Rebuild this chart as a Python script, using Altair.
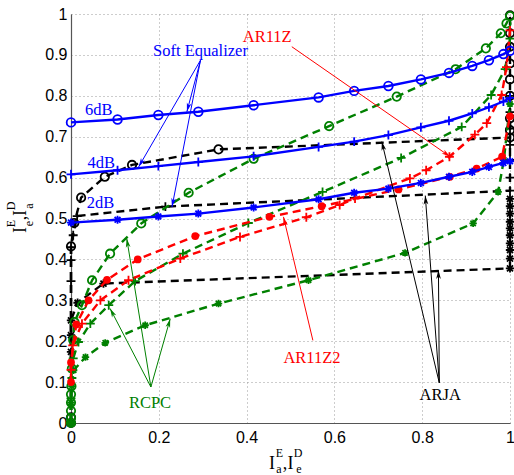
import math
import altair as alt
import pandas as pd

W, H = 439, 409

# ---------------- data ----------------
# Soft equalizer curves (blue, solid)
SE_X = [0.0, 0.106, 0.199, 0.29, 0.416, 0.564, 0.645, 0.723, 0.797, 0.861, 0.914, 0.952, 0.985, 1.0]
SE6_Y = [0.735, 0.742, 0.753, 0.761, 0.777, 0.796, 0.812, 0.824, 0.840, 0.856, 0.873, 0.887, 0.902, 0.91]
SE4_Y = [0.608, 0.618, 0.628, 0.638, 0.652, 0.675, 0.688, 0.704, 0.723, 0.739, 0.757, 0.772, 0.786, 0.795]
SE2_Y = [0.49, 0.497, 0.505, 0.512, 0.527, 0.547, 0.563, 0.573, 0.587, 0.602, 0.614, 0.626, 0.636, 0.64]

# ARJA decoder curves (black, dashed)
ARJA_O_X = [0, 0, 0, 0.0075, 0.023, 0.077, 0.139, 0.336, 1.0, 1, 1, 1, 1, 1, 1, 1, 1]
ARJA_O_Y = [0.0, 0.014, 0.432, 0.489, 0.551, 0.602, 0.631, 0.669, 0.698, 0.716, 0.745, 0.80, 0.84, 0.879, 0.92, 0.953, 0.997]
ARJA_P_X = [0, 0, 0, 0, 0.005, 0.014, 0.215, 1.0, 1, 1, 1, 1, 1, 1]
ARJA_P_Y = [0.0, 0.347, 0.398, 0.43, 0.459, 0.506, 0.529, 0.568, 0.6, 0.643, 0.68, 0.72, 0.76, 0.80]
ARJA_S_X = [0, 0, 0, 0, 0.015, 0.074, 1.0, 1, 1, 1, 1, 1, 1, 1, 1, 1]
ARJA_S_Y = [0.0, 0.174, 0.215, 0.251, 0.294, 0.341, 0.378, 0.402, 0.423, 0.439, 0.459, 0.476, 0.492, 0.512, 0.53, 0.548]

# RCPC curves (green, dashed)
RCPC_O_X = [0, 0, 0, 0, 0, 0.001, 0.002, 0.005, 0.008, 0.025, 0.048, 0.089, 0.16, 0.268, 0.416, 0.588, 0.742, 0.876, 0.945, 0.979, 0.992, 1.0]
RCPC_O_Y = [0.0, 0.012, 0.03, 0.05, 0.07, 0.09, 0.133, 0.203, 0.247, 0.288, 0.349, 0.414, 0.488, 0.563, 0.646, 0.726, 0.798, 0.865, 0.916, 0.953, 0.977, 0.995]
RCPC_P_X = [0, 0, 0.002, 0.005, 0.017, 0.044, 0.086, 0.146, 0.255, 0.404, 0.573, 0.752, 0.89, 0.957, 0.989, 1.0]
RCPC_P_Y = [0.0, 0.06, 0.11, 0.158, 0.198, 0.243, 0.288, 0.347, 0.414, 0.489, 0.565, 0.648, 0.724, 0.802, 0.865, 0.94]
RCPC_S_X = [0, 0, 0.002, 0.006, 0.033, 0.078, 0.169, 0.336, 0.541, 0.761, 0.916, 0.973, 0.986, 1.0]
RCPC_S_Y = [0.0, 0.05, 0.09, 0.129, 0.161, 0.196, 0.239, 0.292, 0.349, 0.416, 0.488, 0.565, 0.643, 0.78]

# AR11Z2 (red dots) and AR11Z (red plus), dashed
AR11Z2_X = [0, 0, 0.012, 0.04, 0.082, 0.152, 0.283, 0.452, 0.571, 0.746, 0.863, 0.924, 0.982, 1.0]
AR11Z2_Y = [0.1, 0.148, 0.241, 0.300, 0.350, 0.400, 0.457, 0.504, 0.530, 0.571, 0.602, 0.622, 0.651, 0.75]
AR11Z_X = [0, 0.004, 0.025, 0.067, 0.131, 0.249, 0.385, 0.536, 0.612, 0.647, 0.772, 0.809, 0.862, 0.92, 0.947, 0.981, 0.992, 1.0]
AR11Z_Y = [0.13, 0.19, 0.243, 0.300, 0.349, 0.402, 0.455, 0.503, 0.533, 0.549, 0.598, 0.618, 0.651, 0.705, 0.733, 0.802, 0.87, 0.96]

# tick values
X_TICKS = [0, 0.2, 0.4, 0.6, 0.8, 1]
Y_TICKS = [round(i / 10, 1) for i in range(11)]

# annotation labels
LABEL_TEXT = ["Soft Equalizer", "6dB", "4dB", "2dB", "AR11Z", "AR11Z2", "RCPC", "ARJA"]
LABEL_X = [0.295, 0.063, 0.069, 0.067, 0.447, 0.549, 0.18, 0.841]
LABEL_Y = [0.909, 0.765, 0.635, 0.537, 0.944, 0.158, 0.048, 0.068]
LABEL_COLOR = ["#0000ff", "#0000ff", "#0000ff", "#0000ff", "#ff0000", "#ff0000", "#008000", "#000000"]

# annotation arrows: start -> tip
ARROW_X0 = [0.295, 0.295, 0.295, 0.503, 0.551, 0.182, 0.182, 0.182, 0.839, 0.839, 0.839]
ARROW_Y0 = [0.887, 0.887, 0.887, 0.92, 0.202, 0.088, 0.088, 0.088, 0.098, 0.098, 0.098]
ARROW_X1 = [0.154, 0.264, 0.23, 0.864, 0.484, 0.089, 0.127, 0.226, 0.837, 0.708, 0.807]
ARROW_Y1 = [0.626, 0.761, 0.528, 0.651, 0.504, 0.28, 0.451, 0.255, 0.374, 0.688, 0.556]
ARROW_COLOR = ["#0000ff"] * 3 + ["#ff0000"] * 2 + ["#008000"] * 3 + ["#000000"] * 3

# ---------------- styling ----------------
PLUS = "M-1,0L1,0M0,-1L0,1"
STAR = "M-1,0L1,0M0,-1L0,1M-0.72,-0.72L0.72,0.72M-0.72,0.72L0.72,-0.72"
HEAD = "M0,0L0.45,1.7L0,1.25L-0.45,1.7Z"
DASH = [8, 5]

SERIES = [
    ("ARJA_O", ARJA_O_X, ARJA_O_Y, "#000000", DASH, "circle", False, 70),
    ("ARJA_P", ARJA_P_X, ARJA_P_Y, "#000000", DASH, PLUS, False, 80),
    ("ARJA_S", ARJA_S_X, ARJA_S_Y, "#000000", DASH, STAR, False, 70),
    ("RCPC_O", RCPC_O_X, RCPC_O_Y, "#008000", DASH, "circle", False, 70),
    ("RCPC_P", RCPC_P_X, RCPC_P_Y, "#008000", DASH, PLUS, False, 80),
    ("RCPC_S", RCPC_S_X, RCPC_S_Y, "#008000", DASH, STAR, False, 55),
    ("AR11Z2", AR11Z2_X, AR11Z2_Y, "#ff0000", DASH, "circle", True, 60),
    ("AR11Z", AR11Z_X, AR11Z_Y, "#ff0000", DASH, PLUS, False, 80),
    ("SE6", SE_X, SE6_Y, "#0000ff", None, "circle", False, 75),
    ("SE4", SE_X, SE4_Y, "#0000ff", None, PLUS, False, 80),
    ("SE2", SE_X, SE2_Y, "#0000ff", None, STAR, False, 65),
]

GRID = dict(grid=True, gridColor="#9a9a9a", gridDash=[1, 3], gridWidth=1, gridOpacity=1,
            ticks=False, domainColor="#555555", domainWidth=1.2,
            labelFont="Liberation Sans", labelFontSize=16, labelColor="#000000",
            labelFlush=False, labelOverlap=False, format=".1~f", title=None)

XENC = alt.X("x:Q", scale=alt.Scale(domain=[0, 1], nice=False, zero=False),
             axis=alt.Axis(values=X_TICKS, labelPadding=6, **GRID))
YENC = alt.Y("y:Q", scale=alt.Scale(domain=[0, 1], nice=False, zero=False),
             axis=alt.Axis(values=Y_TICKS, labelPadding=4, **GRID))

layers = []
for name, xs, ys, color, dash, shape, filled, size in SERIES:
    df = pd.DataFrame({"x": xs, "y": ys, "ord": list(range(len(xs)))})
    line_kw = dict(color=color, strokeWidth=2.4)
    if dash is not None:
        line_kw["strokeDash"] = dash
    layers.append(alt.Chart(df).mark_line(**line_kw).encode(x=XENC, y=YENC, order="ord:Q"))
    layers.append(alt.Chart(df).mark_point(shape=shape, filled=filled, size=size, color=color,
                                           strokeWidth=1.8, opacity=1).encode(x=XENC, y=YENC))

# arrows
arr = pd.DataFrame({"x": ARROW_X0, "y": ARROW_Y0, "x2": ARROW_X1, "y2": ARROW_Y1, "c": ARROW_COLOR})
arr["ang"] = [
    (math.degrees(math.atan2((x0 - x1) * W, (y1 - y0) * H * -1 * -1 * -1))) % 360
    for x0, y0, x1, y1 in zip(ARROW_X0, ARROW_Y0, ARROW_X1, ARROW_Y1)
]
# direction from start to tip in screen coords
arr["ang"] = [
    math.degrees(math.atan2((x1 - x0) * W, (y1 - y0) * H)) % 360
    for x0, y0, x1, y1 in zip(ARROW_X0, ARROW_Y0, ARROW_X1, ARROW_Y1)
]
layers.append(alt.Chart(arr).mark_rule(strokeWidth=1).encode(
    x=XENC, y=YENC, x2="x2:Q", y2="y2:Q", color=alt.Color("c:N", scale=None)))
heads = arr[["x2", "y2", "c", "ang"]].rename(columns={"x2": "x", "y2": "y"})
layers.append(alt.Chart(heads).mark_point(shape=HEAD, filled=True, size=110, opacity=1, strokeWidth=0).encode(
    x=XENC, y=YENC, color=alt.Color("c:N", scale=None), angle=alt.Angle("ang:Q", scale=None)))

# labels
lab = pd.DataFrame({"x": LABEL_X, "y": LABEL_Y, "t": LABEL_TEXT, "c": LABEL_COLOR})
layers.append(alt.Chart(lab).mark_text(font="Liberation Serif", fontSize=16.5, align="center",
                                       baseline="middle").encode(
    x=XENC, y=YENC, text="t:N", color=alt.Color("c:N", scale=None)))

# axis titles built from pieces (sub/superscripts)
TITLE_PIECES = [
    # text, px, py, size, angle
    ("I", 201, 455, 18, 0), ("E", 208.5, 443, 12, 0), ("a", 208, 459, 12, 0), (",", 214, 455, 18, 0),
    ("I", 219.5, 455, 18, 0), ("D", 227, 443, 12, 0), ("e", 228, 459, 12, 0),
    ("I", -45, 216, 18, 270), ("E", -56, 209.5, 12, 270), ("e", -38, 209.5, 12, 270), (",", -45, 204, 18, 270),
    ("I", -45, 199, 18, 270), ("D", -56, 192, 12, 270), ("a", -38, 192, 12, 270),
]
for t, px, py, sz, ang in TITLE_PIECES:
    kw = dict(font="Liberation Serif", fontSize=sz, align="center", baseline="alphabetic", color="#000000")
    if ang:
        kw["angle"] = ang
    layers.append(alt.Chart(pd.DataFrame({"t": [t]})).mark_text(**kw).encode(
        x=alt.value(px), y=alt.value(py), text="t:N"))

chart = alt.layer(*layers).properties(
    width=W, height=H,
    autosize=alt.AutoSizeParams(type="none"),
    padding={"left": 71, "top": 14, "right": 4, "bottom": 52},
).configure_view(stroke=None)

chart.save("out.html", embed_options={"renderer": "svg", "actions": False})
